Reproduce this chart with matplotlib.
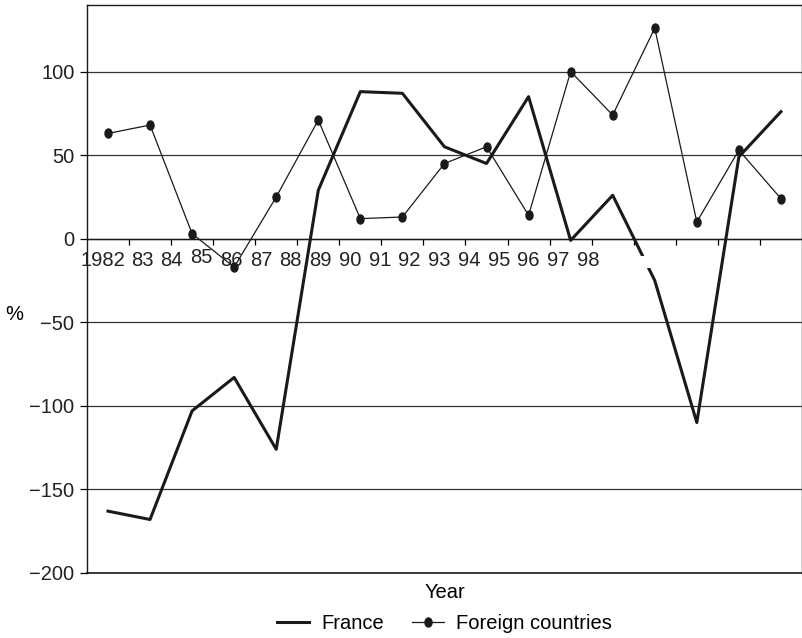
import matplotlib
matplotlib.use("Agg")
import matplotlib.pyplot as plt
from matplotlib.path import Path
from matplotlib.transforms import Affine2D
from matplotlib.patches import Rectangle

plt.rcParams["font.family"] = ["Liberation Sans", "DejaVu Sans"]
plt.rcParams["font.size"] = 14.5

# values (17 periods)
france = [-163, -168, -103, -83, -126, 29, 88, 87, 55, 45, 85,
          -1, 26, -25, -110, 49, 76]
foreign = [63, 68, 3, -17, 25, 71, 12, 13, 45, 55, 14,
           100, 74, 126, 10, 53, 24]
year_labels = ["1982", "83", "84", "85", "86", "87", "88", "89", "90",
               "91", "92", "93", "94", "95", "96", "97", "98"]
yticks = [-200, -150, -100, -50, 0, 50, 100]

x = list(range(len(france)))

fig = plt.figure(figsize=(8.03, 6.38), dpi=100)
ax = fig.add_axes([0.1083, 0.1019, 0.8904, 0.8907])

# slightly tall round marker like the original
dot = Path.unit_circle().transformed(Affine2D().scale(0.78, 1.0))

ax.plot(x, france, color="#1a1a1a", lw=2.2, label="France", zorder=3)
ax.plot(x, foreign, color="#1a1a1a", lw=0.9, marker=dot, ms=6.5,
        label="Foreign countries", zorder=4)

# white gap in the France line (hidden label in the original)
ax.add_patch(Rectangle((12.6, -17.5), 0.4, 7, facecolor="white",
                       edgecolor="none", zorder=5))

ax.set_xlim(-0.5, 16.5)
ax.set_ylim(-200, 140)
ax.set_yticks(yticks)
ax.yaxis.grid(True, color="#333333", lw=0.9)
ax.set_axisbelow(True)
ax.tick_params(axis="y", direction="out", length=5, width=0.9, pad=4,
               labelcolor="#222222")

# x axis sits on the zero line
ax.spines["bottom"].set_position(("data", 0))
for s in ax.spines.values():
    s.set_linewidth(1.0)
    s.set_color("#1a1a1a")
ax.axhline(-200, color="#1a1a1a", lw=1.2, clip_on=False)
ax.set_xticks([i - 0.5 for i in range(1, len(x))])
ax.set_xticklabels([])
ax.tick_params(axis="x", direction="out", length=4.5, width=0.9)

# year labels are squeezed together, not aligned with the ticks
label_x = [-0.11] + [0.81 + 0.707 * k for k in range(len(year_labels) - 1)]
for lx, lab in zip(label_x, year_labels):
    dy = -7 if lab == "85" else -9
    ax.annotate(lab, (lx, 0), xytext=(0, dy), textcoords="offset points",
                ha="center", va="top", fontsize=14.5, color="#222222")

ax.set_ylabel("%", rotation=0, va="center", ha="center")
ax.yaxis.set_label_coords(-0.102, 0.455)

ax.text(0.5, -0.018, "Year", transform=ax.transAxes, ha="center", va="top")
ax.legend(loc="upper center", bbox_to_anchor=(0.5, -0.048), ncol=2,
          frameon=False, handlelength=1.6, columnspacing=1.4,
          handletextpad=0.6, borderpad=0.2)

fig.savefig("out.png", dpi=100)
